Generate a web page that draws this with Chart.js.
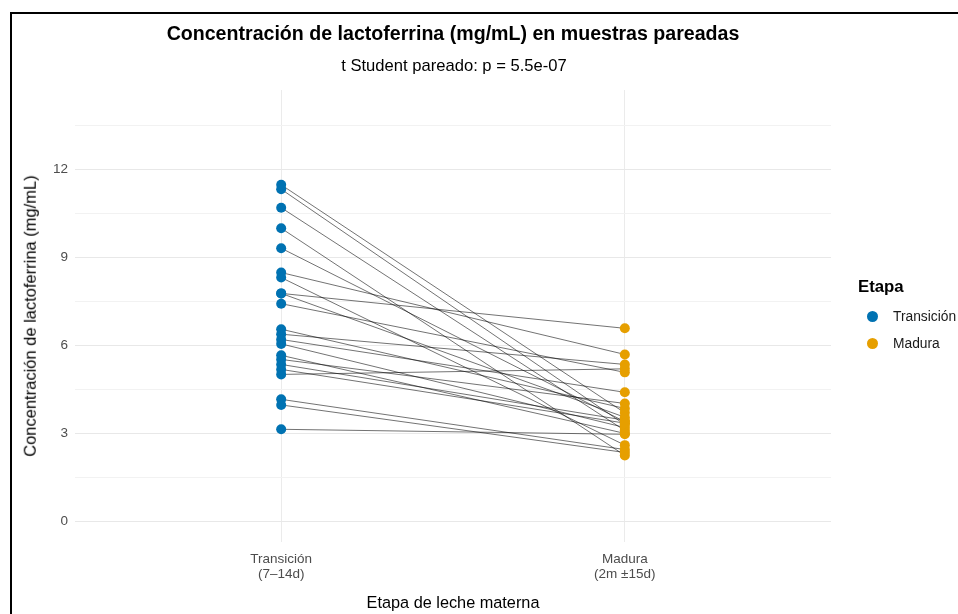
<!DOCTYPE html>
<html lang="es">
<head>
<meta charset="utf-8">
<title>Lactoferrina en muestras pareadas</title>
<script src="https://cdn.jsdelivr.net/npm/chart.js@4.4.1/dist/chart.umd.min.js"></script>
<style>
  html, body { margin: 0; padding: 0; background: #fff; }
  body { width: 958px; height: 614px; overflow: hidden; position: relative;
         font-family: "Liberation Sans", Arial, sans-serif; color: #000; }
  #frame { position: absolute; left: 10px; top: 12px; width: 960px; height: 620px;
           border-top: 2px solid #000; border-left: 2px solid #000; }
  #wrap { position: absolute; left: 0; top: 0; width: 958px; height: 614px; }
  .txt { position: absolute; white-space: nowrap; line-height: 1; }
  #title { left: 453px; top: 24px; transform: translateX(-50%); font-size: 19.6px; font-weight: bold; }
  #subtitle { left: 454px; top: 58px; transform: translateX(-50%); font-size: 16.6px; }
  #xtitle { left: 453px; top: 594px; transform: translateX(-50%); font-size: 16.3px; }
  #ytitle { left: 30px; top: 316px; transform: translate(-50%, -50%) rotate(-90deg); font-size: 16.5px; }
  #legtitle { left: 858px; top: 279px; font-size: 16.8px; font-weight: bold; }
  .legitem { position: absolute; left: 867px; font-size: 13.8px; white-space: nowrap; line-height: 1; }
  .legitem span.dot { position: absolute; left: 0; top: 1px; width: 11px; height: 11px; border-radius: 50%; }
  .legitem span.lab { position: absolute; left: 26px; top: 0; color: #1a1a1a; }
</style>
</head>
<body>
<div id="frame"></div>
<div id="wrap"><canvas id="chart" width="958" height="614"></canvas></div>
<div class="txt" id="title">Concentración de lactoferrina (mg/mL) en muestras pareadas</div>
<div class="txt" id="subtitle">t Student pareado: p = 5.5e-07</div>
<div class="txt" id="xtitle">Etapa de leche materna</div>
<div class="txt" id="ytitle">Concentración de lactoferrina (mg/mL)</div>
<div class="txt" id="legtitle">Etapa</div>
<div class="legitem" style="top:310px"><span class="dot" style="background:#0072B2"></span><span class="lab">Transición</span></div>
<div class="legitem" style="top:337px"><span class="dot" style="background:#E69F00"></span><span class="lab">Madura</span></div>
<script>
// Stage labels on the x axis (one entry per stage, multi-line)
const stageLabels = [["Transición", "(7–14d)"], ["Madura", "(2m ±15d)"]];
const stageNames = ["Transición", "Madura"];

// Lactoferrin (mg/mL) per subject; index i is the same subject in both arrays
const transicion = [11.47, 11.32, 10.69, 9.99, 9.31, 8.48, 8.31, 7.77, 7.77, 7.42, 6.55,
                    6.38, 6.20, 6.05, 5.66, 5.52, 5.35, 5.18, 5.01, 4.16, 3.97, 3.14];
const madura     = [3.70, 3.30, 3.10, 2.25, 3.40, 5.69, 2.60, 6.58, 3.55, 5.08, 3.85,
                    5.35, 4.40, 3.20, 3.00, 4.02, 3.45, 3.35, 5.20, 2.45, 2.35, 2.97];

// Y axis labelled ticks and the half-step minor grid
const yTickLabels = [0, 3, 6, 9, 12];
const yGridSteps = [0, 1.5, 3, 4.5, 6, 7.5, 9, 10.5, 12, 13.5];

const colTrans = "#0072B2";
const colMad = "#E69F00";

// One thin segment per subject joining its two samples
const pairSets = transicion.map((v, i) => ({
  type: "line",
  data: [{ x: 1, y: v }, { x: 2, y: madura[i] }],
  borderColor: "rgba(0,0,0,0.62)",
  borderWidth: 0.9,
  pointRadius: 0,
  fill: false,
  order: 2
}));

const pointSets = [
  { type: "scatter", label: stageNames[0], data: transicion.map(v => ({ x: 1, y: v })),
    backgroundColor: colTrans, borderColor: colTrans, pointRadius: 5, borderWidth: 0, order: 0 },
  { type: "scatter", label: stageNames[1], data: madura.map(v => ({ x: 2, y: v })),
    backgroundColor: colMad, borderColor: colMad, pointRadius: 5, borderWidth: 0, order: 0 }
];

new Chart(document.getElementById("chart"), {
  data: { datasets: [...pairSets, ...pointSets] },
  options: {
    responsive: false,
    animation: false,
    events: [],
    layout: { autoPadding: false, padding: { top: 90, right: 127, left: 0, bottom: 0 } },
    plugins: { legend: { display: false }, tooltip: { enabled: false }, title: { display: false } },
    scales: {
      x: {
        type: "linear",
        min: 0.4, max: 2.6,
        afterBuildTicks: s => { s.ticks = [{ value: 1 }, { value: 2 }]; },
        afterFit: s => { s.height = 72; },
        ticks: {
          callback: v => stageLabels[v - 1],
          color: "#4d4d4d",
          font: { family: "Liberation Sans", size: 13.5, lineHeight: 1.1 },
          padding: 10,
          maxRotation: 0,
          autoSkip: false
        },
        grid: { color: "#ebebeb", lineWidth: 1, drawTicks: false },
        border: { display: false }
      },
      y: {
        type: "linear",
        min: -0.7, max: 14.7,
        afterBuildTicks: s => { s.ticks = yGridSteps.map(v => ({ value: v })); },
        afterFit: s => { s.width = 75; },
        ticks: {
          callback: v => (yTickLabels.includes(v) ? String(v) : ""),
          color: "#4d4d4d",
          font: { family: "Liberation Sans", size: 13.5 },
          padding: 7,
          autoSkip: false
        },
        grid: {
          color: c => (yTickLabels.includes(c.tick && c.tick.value) ? "#e8e8e8" : "#f2f2f2"),
          lineWidth: 1,
          drawTicks: false
        },
        border: { display: false }
      }
    }
  }
});
</script>
</body>
</html>
